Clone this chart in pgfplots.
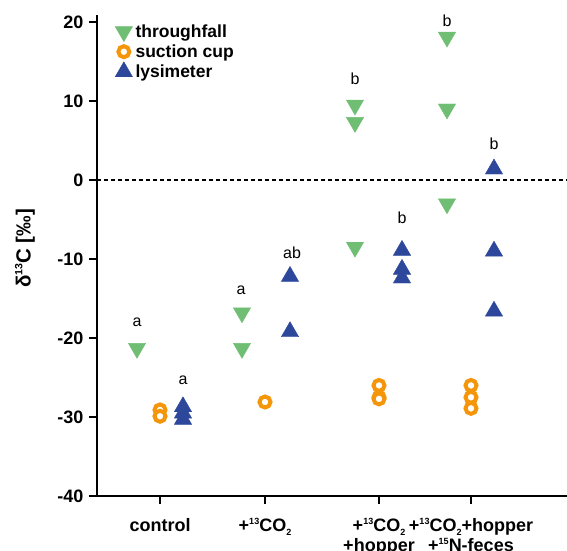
\documentclass[border=0pt]{standalone}
\usepackage{fontspec}
\setmainfont{Liberation Sans}
\usepackage{pgfplots}
\pgfplotsset{compat=1.18}

\definecolor{tfgreen}{RGB}{112,190,116}
\definecolor{scorange}{RGB}{245,150,10}
\definecolor{lyblue}{RGB}{45,72,155}

% small raised / lowered digits as in the original labels
\newcommand{\sps}[1]{\raisebox{0.75ex}{\fontsize{9}{9}\selectfont #1}}
\newcommand{\sbs}[1]{\raisebox{-0.4ex}{\fontsize{9}{9}\selectfont #1}}

\begin{document}
\begin{tikzpicture}
\begin{axis}[
    scale only axis,
    width=470pt, height=481pt,
    xmin=97, xmax=567,
    ymin=-40, ymax=20.9,
    clip=false,
    axis lines=left,
    axis line style={-, line width=2.6pt},
    tick align=outside,
    major tick length=8pt,
    tick style={line width=2.6pt, black},
    xtick={160,265,379,471},
    xticklabels={control, +\sps{13}CO\sbs{2}, {+\sps{13}CO\sbs{2}\\+hopper}, {+\sps{13}CO\sbs{2}+hopper\\+\sps{15}N-feces}},
    ytick={-40,-30,-20,-10,0,10,20},
    yticklabels={-40,-30,-20,-10,0,10,20},
    ticklabel style={font=\fontsize{18}{20}\selectfont\bfseries},
    xticklabel style={align=center, yshift=-11pt},
    yticklabel style={xshift=-2pt},
    ylabel={δ\raisebox{0.75ex}{\fontsize{10.5}{10}\selectfont 13}C [‰]},
    ylabel style={at={(rel axis cs:0,0.5)}, anchor=center, xshift=7pt, yshift=72pt,
        font=\fontsize{20.5}{22}\selectfont\bfseries},
    legend style={at={(axis cs:112,20.1)}, anchor=north west, draw=none, fill=none,
        font=\fontsize{17.5}{17.5}\selectfont\bfseries, row sep=2pt, column sep=2pt,
        nodes={inner sep=1pt}},
    legend cell align=left,
    legend image code/.code={\draw[#1] plot coordinates {(0pt,0pt)};},
]

\addplot[only marks, mark=triangle*, mark size=10pt, color=tfgreen,
    mark options={rotate=180, fill=tfgreen, draw=tfgreen}] coordinates {
    (137,-21.3)
    (242,-16.8) (242,-21.3)
    (355,9.5) (355,7.3) (355,-8.5)
    (447,18.1) (447,9.0) (447,-3.0)
};
\addlegendentry{throughfall}

\addplot[only marks, mark=*, mark size=5.5pt, color=scorange,
    mark options={line width=4pt, fill=white, draw=scorange}] coordinates {
    (160,-29.1) (160,-29.9)
    (265,-28.1)
    (379,-26.0) (379,-27.5) (379,-27.7)
    (471,-26.0) (471,-27.5) (471,-28.9)
};
\addlegendentry{suction cup}

\addplot[only marks, mark=triangle*, mark size=10pt, color=lyblue,
    mark options={fill=lyblue, draw=lyblue}] coordinates {
    (183,-28.7) (183,-29.5) (183,-30.3)
    (290,-12.2) (290,-19.2)
    (402,-8.9) (402,-11.3) (402,-12.4)
    (494,1.4) (494,-9.0) (494,-16.6)
};
\addlegendentry{lysimeter}

\addplot[forget plot, black, line width=2pt, dash pattern=on 4pt off 3pt]
    coordinates {(97,0) (567,0)};

\tikzset{lett/.style={font=\fontsize{16}{16}\selectfont, inner sep=0pt}}
\node[lett] at (axis cs:137,-18.0) {a};
\node[lett] at (axis cs:183,-25.3) {a};
\node[lett] at (axis cs:241,-14.0) {a};
\node[lett] at (axis cs:292,-9.2) {ab};
\node[lett] at (axis cs:355,12.8) {b};
\node[lett] at (axis cs:402,-4.8) {b};
\node[lett] at (axis cs:447,20.2) {b};
\node[lett] at (axis cs:494,4.6) {b};
\end{axis}
\pgfresetboundingbox
\path[use as bounding box] (-97pt,-54pt) rectangle (470pt,496pt);
\end{tikzpicture}
\end{document}
